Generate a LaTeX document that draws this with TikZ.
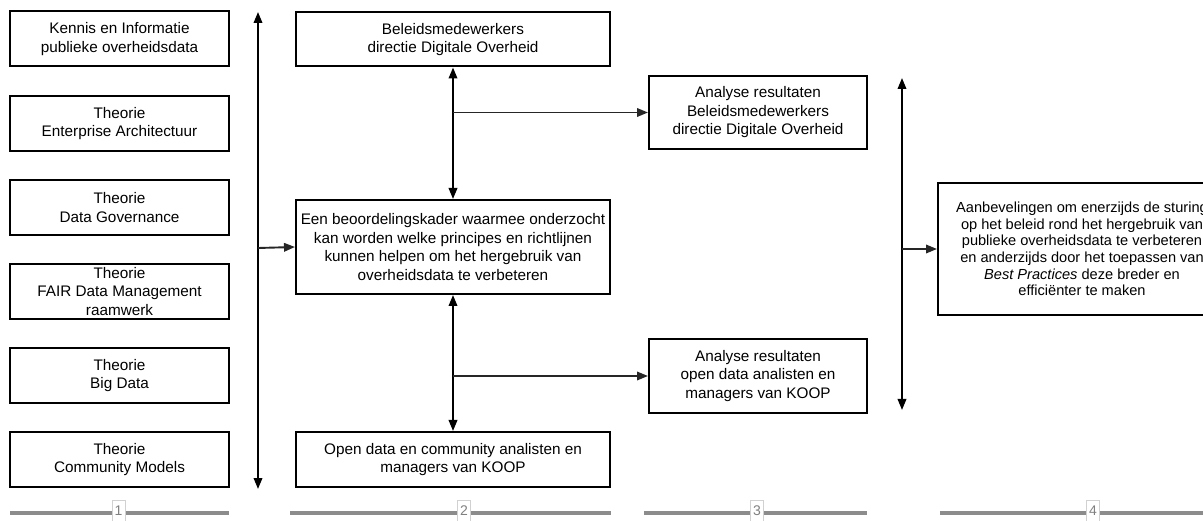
\documentclass[tikz,border=0pt]{standalone}
\usepackage{fontspec}
\setmainfont{Liberation Sans}
\usetikzlibrary{arrows.meta}
\begin{document}
\begin{tikzpicture}[x=1pt,y=-1pt,
  box/.style={draw=black,line width=2pt,fill=white,align=center,inner sep=1pt,
    font=\fontsize{15.3}{18.5}\selectfont},
  leftbox/.style={box,minimum width=219pt,minimum height=55pt},
  midbox/.style={box,minimum width=314pt},
  resbox/.style={box,minimum width=218pt,minimum height=73pt},
  tip/.tip={Triangle[length=11pt,width=8.5pt]},
  conn/.style={line width=1.9pt,draw=black!85,-tip},
  dconn/.style={line width=2pt,tip-tip},
  axis/.style={line width=3.5pt,draw=black!45},
  axislabel/.style={draw=black!18,line width=0.7pt,fill=white,text=black!50,
    font=\fontsize{14}{14}\selectfont,minimum width=13pt,minimum height=22pt,inner sep=0.5pt}
]
\useasboundingbox (0,0) rectangle (1203,521);
\clip (0,0) rectangle (1203,521);

% column 1: sources and theories
\node[leftbox] (kennis) at (119.5,39) {Kennis en Informatie\\publieke overheidsdata};
\node[leftbox] (ea)     at (119.5,123.5) {Theorie\\Enterprise Architectuur};
\node[leftbox] (dg)     at (119.5,207.5) {Theorie\\Data Governance};
\node[leftbox] (fair)   at (119.5,291.5) {Theorie\\FAIR Data Management\\raamwerk};
\node[leftbox] (bigd)   at (119.5,375.5) {Theorie\\Big Data};
\node[leftbox] (comm)   at (119.5,459.5) {Theorie\\Community Models};

% column 2: framework and respondents
\node[midbox,minimum height=54pt] (beleid) at (453,39.5) {Beleidsmedewerkers\\directie Digitale Overheid};
\node[midbox,minimum height=94pt] (kader) at (453,247) {Een beoordelingskader waarmee onderzocht\\kan worden welke principes en richtlijnen\\kunnen helpen om het hergebruik van\\overheidsdata te verbeteren};
\node[midbox,minimum height=55pt] (open) at (453,459.5) {Open data en community analisten en\\managers van KOOP};

% column 3: analysis results
\node[resbox] (res1) at (758,112.5) {Analyse resultaten\\Beleidsmedewerkers\\directie Digitale Overheid};
\node[resbox,minimum height=74pt] (res2) at (758,376) {Analyse resultaten\\open data analisten en\\managers van KOOP};

% column 4: recommendations (runs past the right edge)
\node[box,minimum width=288pt,minimum height=132pt,font=\fontsize{14.6}{16.7}\selectfont] (aanb) at (1082,249)
  {Aanbevelingen om enerzijds de sturing\\op het beleid rond het hergebruik van\\publieke overheidsdata te verbeteren\\en anderzijds door het toepassen van\\\textit{Best Practices} deze breder en\\efficiënter te maken};

% bus lines
\coordinate (b1top) at (258,12);
\coordinate (b1bot) at (258,489);
\coordinate (b1mid) at (258,248);
\coordinate (b2up)  at (453,112.5);
\coordinate (b2low) at (453,376);
\coordinate (b4top) at (902,78);
\coordinate (b4bot) at (902,410);
\coordinate (b4mid) at (902,249);

\draw[dconn] (b1top) -- (b1bot);
\draw[conn] (b1mid) -- (kader.west);
\draw[dconn] (beleid.south) -- (kader.north);
\draw[conn] (b2up) -- (res1.west);
\draw[dconn] (kader.south) -- (open.north);
\draw[conn] (b2low) -- (res2.west);
\draw[dconn] (b4top) -- (b4bot);
\draw[conn] (b4mid) -- (aanb.west);

% phase axis
\coordinate (a1s) at (10,513);  \coordinate (a1e) at (229,513);
\coordinate (a2s) at (290,513); \coordinate (a2e) at (611,513);
\coordinate (a3s) at (644,513); \coordinate (a3e) at (867,513);
\coordinate (a4s) at (940,513); \coordinate (a4e) at (1210,513);
\draw[axis] (a1s) -- (a1e);
\draw[axis] (a2s) -- (a2e);
\draw[axis] (a3s) -- (a3e);
\draw[axis] (a4s) -- (a4e);
\node[axislabel] (p1) at (118.5,511) {1};
\node[axislabel] (p2) at (464,511) {2};
\node[axislabel] (p3) at (757,511) {3};
\node[axislabel] (p4) at (1093,511) {4};
\end{tikzpicture}
\end{document}
